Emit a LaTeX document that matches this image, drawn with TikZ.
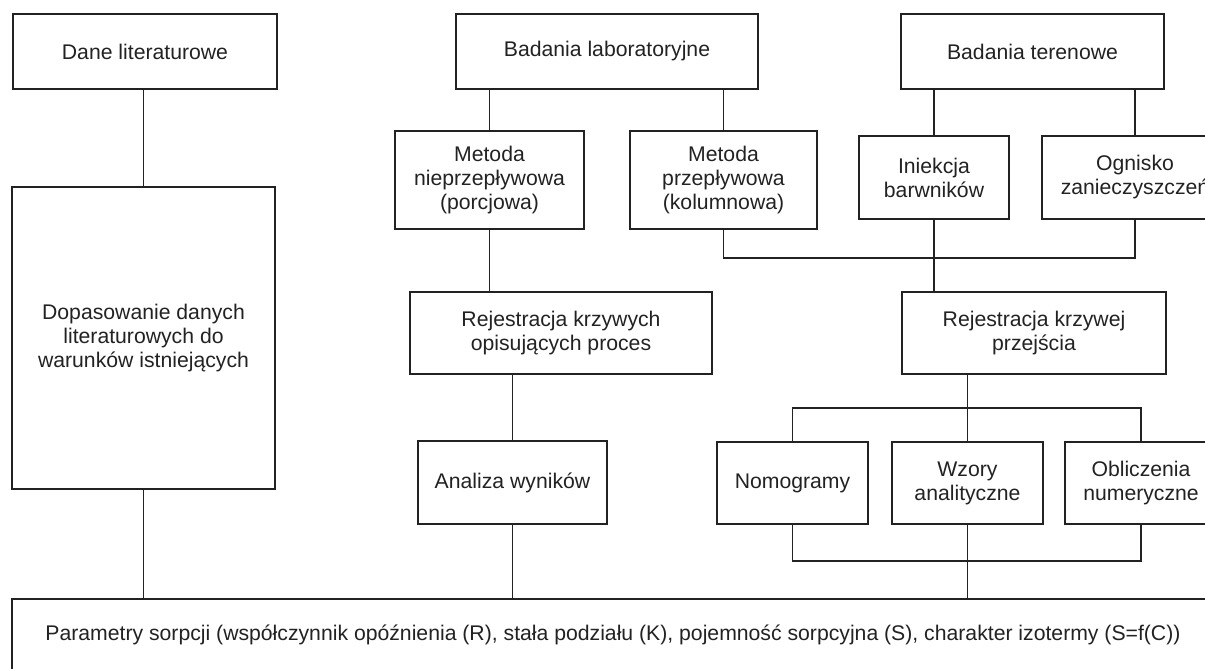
\documentclass[tikz,border=0pt]{standalone}
\usepackage{fontspec}
\setmainfont{Liberation Sans}
\usetikzlibrary{calc}
\definecolor{ink}{HTML}{222222}
\tikzset{
  bx/.style={draw=ink, line width=1.3pt, inner sep=0pt, align=center, text=ink,
    font=\fontsize{21.2}{24}\selectfont, minimum width=#1},
  ln/.style={draw=ink, line width=1.3pt}
}
\begin{document}
\begin{tikzpicture}[x=1pt,y=-1pt]
\useasboundingbox (0,0) rectangle (1205,669);
\clip (0,0) rectangle (1205,669);
\fill[white] (0,0) rectangle (1205,669);
% top row
\node[bx=264, minimum height=75] (dane) at (145,51.5) {Dane literaturowe};
\node[bx=302, minimum height=75] (lab) at (607,51.5) {Badania laboratoryjne};
\node[bx=263, minimum height=75] (ter) at (1032.5,51.5) {Badania terenowe};
% second row
\node[bx=263, minimum height=302] (dop) at (143.5,338) {Dopasowanie danych\\literaturowych do\\warunków istniejących};
\node[bx=189, minimum height=98] (nie) at (489.5,180) {Metoda\\nieprzepływowa\\(porcjowa)};
\node[bx=187, minimum height=98] (prz) at (723.5,180) {Metoda\\przepływowa\\(kolumnowa)};
\node[bx=150, minimum height=83] (ini) at (934,177.5) {Iniekcja\\barwników};
\node[bx=186, minimum height=83] (ogn) at (1135,177.5) {Ognisko\\zanieczyszczeń};
% third row
\node[bx=302, minimum height=82] (rk) at (561,333) {Rejestracja krzywych\\opisujących proces};
\node[bx=264, minimum height=82] (rp) at (1034,333) {Rejestracja krzywej\\przejścia};
% fourth row
\node[bx=189, minimum height=83] (ana) at (512.5,482.5) {Analiza wyników};
\node[bx=151, minimum height=82] (nom) at (792.5,483) {Nomogramy};
\node[bx=151, minimum height=82] (wz) at (967.5,483) {Wzory\\analityczne};
\node[bx=152, minimum height=82] (obl) at (1141,483) {Obliczenia\\numeryczne};
% bottom
\node[bx=1202, minimum height=72] (par) at (613,635) {Parametry sorpcji (współczynnik opóźnienia (R), stała podziału (K), pojemność sorpcyjna (S), charakter izotermy (S=f(C))};
% junctions
\coordinate (j1) at (ini.south |- 0,258);
\coordinate (j2) at (wz.north |- 0,408);
\coordinate (j3) at (wz.south |- 0,561);
% connectors
\draw[ln] (dop.north |- dane.south) -- (dop.north);
\draw[ln] (dop.south) -- (dop.south |- par.north);
\draw[ln] (nie.north |- lab.south) -- (nie.north);
\draw[ln] (prz.north |- lab.south) -- (prz.north);
\draw[ln] (ini.north |- ter.south) -- (ini.north);
\draw[ln] (ogn.north |- ter.south) -- (ogn.north);
\draw[ln] (prz.south) |- (j1) -| (ogn.south);
\draw[ln] (ini.south) -- (ini.south |- rp.north);
\draw[ln] (nie.south) -- (nie.south |- rk.north);
\draw[ln] (ana.north |- rk.south) -- (ana.north);
\draw[ln] (ana.south) -- (ana.south |- par.north);
\draw[ln] (wz.north |- rp.south) -- (wz.north);
\draw[ln] (nom.north) |- (j2) -| (obl.north);
\draw[ln] (nom.south) |- (j3) -| (obl.south);
\draw[ln] (wz.south) -- (wz.south |- par.north);
\end{tikzpicture}
\end{document}
